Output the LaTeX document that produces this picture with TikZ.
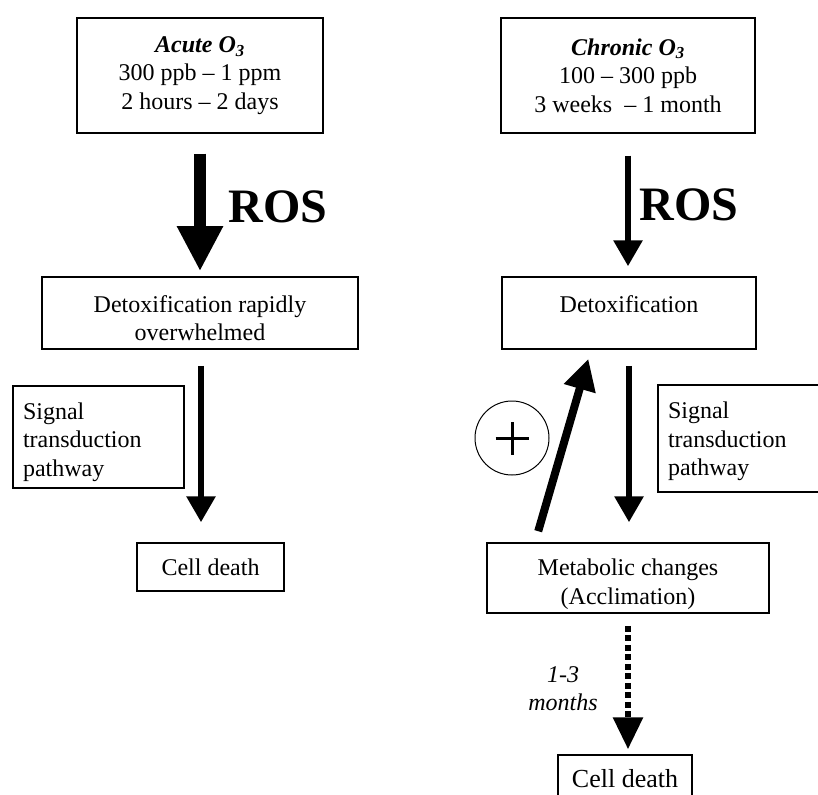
\documentclass[tikz,border=0pt]{standalone}
\usepackage{fontspec}
\setmainfont{Liberation Serif}
\usetikzlibrary{arrows.meta,calc}
\begin{document}
\begin{tikzpicture}[x=1pt,y=-1pt,
  txt/.style={inner sep=0pt, font=\fontsize{24}{28.5}\selectfont},
  boxnode/.style={draw, line width=1.5pt, rectangle, inner sep=0pt, align=center,
    font=\fontsize{24}{28.5}\selectfont},
  bigarrow/.style={line width=12pt, -{Triangle[length=45pt,width=43pt]}},
  arrowthin/.style={line width=6pt, -{Triangle[length=26pt,width=28pt]}},
  arrowup/.style={line width=8pt, -{Triangle[length=31pt,width=31pt]}},
  arrowdot/.style={line width=6pt, dash pattern=on 6pt off 3.5pt, -{Triangle[length=32pt,width=29pt]}},
  roslabel/.style={inner sep=0pt, font=\fontsize{48}{50}\selectfont\bfseries},
]
\useasboundingbox (0,0) rectangle (818,794);
\clip (0,0) rectangle (818,794);

% left column
\node[boxnode, minimum width=246pt, minimum height=115pt] (acute) at (200,75.5)
  {\textbf{\textit{Acute O\textsubscript{3}}}\\300 ppb -- 1 ppm\\2 hours -- 2 days};
\node[boxnode, minimum width=316pt, minimum height=72pt,
  label={[txt, yshift=-5pt, align=center]center:{Detoxification rapidly\\overwhelmed}}] (detoxL) at (200,313) {};
\node[boxnode, minimum width=171pt, minimum height=102pt,
  label={[txt, yshift=-5pt, align=left, text width=151pt]center:{Signal\\transduction\\pathway}}] (signalL) at (98.5,437) {};
\node[boxnode, minimum width=147pt, minimum height=48pt] (cellL) at (210.5,567) {Cell death};
\node[roslabel] (rosL) at (278,207) {ROS};

\draw[bigarrow, shorten <=20pt, shorten >=5pt] (acute.south) -- (detoxL.north);
\draw[arrowthin, shorten <=16pt, shorten >=20pt] ([xshift=1pt]detoxL.south) -- ([xshift=1pt]detoxL.south |- cellL.north);

% right column
\node[boxnode, minimum width=254pt, minimum height=115pt] (chronic) at (628,75.5)
  {\textbf{\textit{Chronic O\textsubscript{3}}}\\100 -- 300 ppb\\3 weeks\ \ -- 1 month};
\node[boxnode, minimum width=254pt, minimum height=72pt,
  label={[txt, yshift=9pt]center:Detoxification}] (detoxR) at (629,313) {};
\node[boxnode, minimum width=171pt, minimum height=107pt,
  label={[txt, yshift=-3pt, align=left, text width=151pt]center:{Signal\\transduction\\pathway}}] (signalR) at (743.5,438.5) {};
\node[boxnode, minimum width=282pt, minimum height=70pt,
  label={[txt, yshift=-6pt, align=center]center:{Metabolic changes\\(Acclimation)}}] (metab) at (628,578) {};
\node[boxnode, minimum width=134pt, minimum height=48pt, font=\fontsize{26}{30}\selectfont] (cellR) at (625,779) {Cell death};
\node[roslabel] (rosR) at (689,205) {ROS};
\node[draw, circle, line width=1pt, minimum size=74pt, inner sep=0pt,
  path picture={
    \draw[line width=3pt] ([xshift=-16.5pt]path picture bounding box.center) -- ([xshift=16.5pt]path picture bounding box.center);
    \draw[line width=3pt] ([yshift=-16.5pt]path picture bounding box.center) -- ([yshift=16.5pt]path picture bounding box.center);
  }] (plus) at (512,438) {};
\node[txt, align=center, font=\fontsize{24}{28}\selectfont\itshape] (months) at (563,689) {1-3\\months};

\draw[arrowthin, shorten <=22pt, shorten >=10pt] (chronic.south) -- (chronic.south |- detoxR.north);
\draw[arrowthin, shorten <=16pt, shorten >=20pt] (detoxR.south) -- (detoxR.south |- metab.north);
\draw[arrowup, shorten <=11.5pt, shorten >=9.5pt] ([xshift=-93pt]metab.north) -- ([xshift=-38pt]detoxR.south);
\draw[arrowdot, shorten <=12pt, shorten >=5pt] (metab.south) -- (metab.south |- cellR.north);
\end{tikzpicture}
\end{document}
